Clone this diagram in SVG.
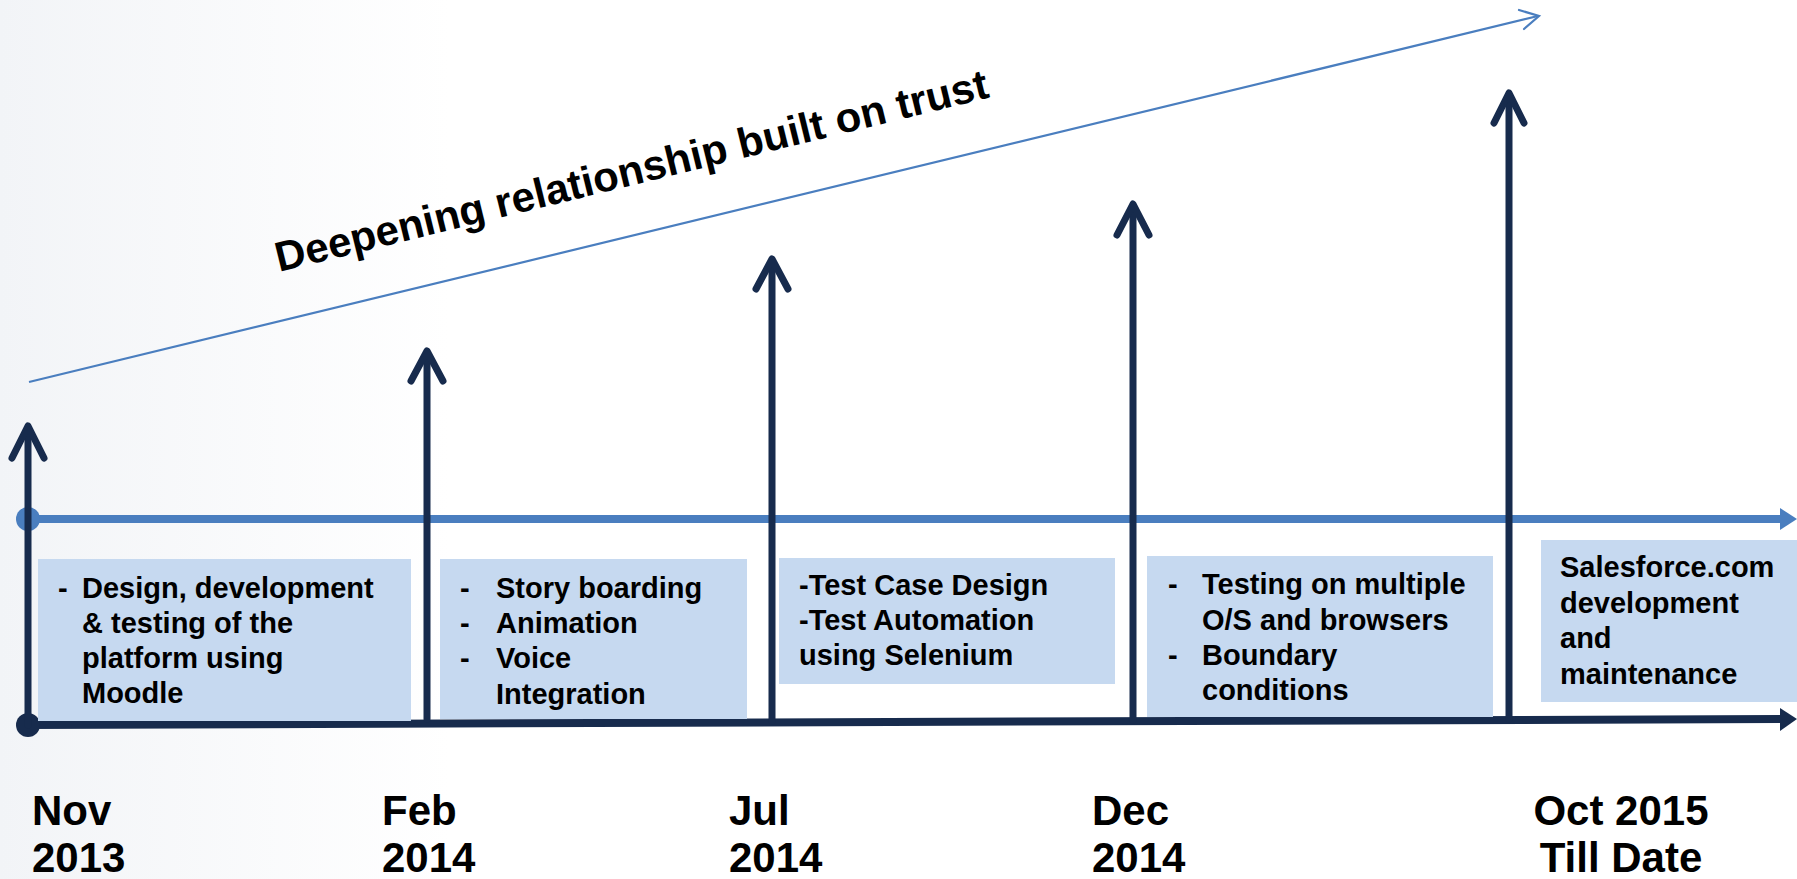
<svg xmlns="http://www.w3.org/2000/svg" width="1797" height="879" viewBox="0 0 1797 879">
<defs>
<style>
.t{font-family:"Liberation Sans",Arial,sans-serif;font-weight:bold;fill:#000;}
.box{font-size:29px;}
.date{font-size:42px;}
.bx{fill:#c6d9f0;}
.va{stroke:#172b4d;stroke-width:7;fill:none;stroke-linecap:round;stroke-linejoin:round;}
</style>
<linearGradient id="bg" x1="0" y1="0" x2="1" y2="0">
<stop offset="0" stop-color="#f2f4f7"/>
<stop offset="0.25" stop-color="#ffffff"/>
</linearGradient>
</defs>
<rect width="1797" height="879" fill="url(#bg)"/>

<g id="trend">
<line x1="29" y1="382" x2="1538" y2="16" stroke="#4a7ebf" stroke-width="2.2"/>
<polyline points="1519,10 1539,16 1524,29" fill="none" stroke="#4a7ebf" stroke-width="2.2" stroke-linecap="round"/>
<text class="t" font-size="42" transform="translate(279,272) rotate(-13.8)">Deepening relationship built on trust</text>
</g>

<g id="connectors">
<line x1="28" y1="519" x2="1782" y2="519" stroke="#4a7ebf" stroke-width="8"/>
<polygon points="1780,508 1797,519 1780,530" fill="#4a7ebf"/>
<circle cx="28" cy="519" r="12" fill="#4a7ebf"/>
<line x1="28" y1="725" x2="1782" y2="719" stroke="#172b4d" stroke-width="8"/>
<polygon points="1780,708 1797,719 1780,731" fill="#172b4d"/>
<circle cx="28" cy="725" r="12" fill="#172b4d"/>
<g class="va">
<line x1="28" y1="725" x2="28" y2="428"/><polyline points="12,458 28,426 44,458"/>
<line x1="427" y1="719" x2="427" y2="353"/><polyline points="411,381 427,351 443,381"/>
<line x1="772" y1="721" x2="772" y2="261"/><polyline points="756,289 772,259 788,289"/>
<line x1="1133" y1="720" x2="1133" y2="206"/><polyline points="1117,235 1133,204 1149,235"/>
<line x1="1509" y1="719" x2="1509" y2="95"/><polyline points="1494,123 1509,93 1524,123"/>
</g>
</g>

<g id="box1">
<rect class="bx" x="38" y="559" width="373" height="162"/>
<text class="t box"><tspan x="58" y="598">-</tspan><tspan x="82" y="598">Design, development</tspan><tspan x="82" y="633">&amp; testing of the</tspan><tspan x="82" y="668">platform using</tspan><tspan x="82" y="703">Moodle</tspan></text>
</g>
<g id="box2">
<rect class="bx" x="440" y="559" width="307" height="160"/>
<text class="t box"><tspan x="460" y="598">-</tspan><tspan x="496" y="598">Story boarding</tspan><tspan x="460" y="633">-</tspan><tspan x="496" y="633">Animation</tspan><tspan x="460" y="668">-</tspan><tspan x="496" y="668">Voice</tspan><tspan x="496" y="704">Integration</tspan></text>
</g>
<g id="box3">
<rect class="bx" x="779" y="558" width="336" height="126"/>
<text class="t box"><tspan x="799" y="595">-Test Case Design</tspan><tspan x="799" y="630">-Test Automation</tspan><tspan x="799" y="665">using Selenium</tspan></text>
</g>
<g id="box4">
<rect class="bx" x="1147" y="556" width="346" height="161"/>
<text class="t box"><tspan x="1168" y="594">-</tspan><tspan x="1202" y="594">Testing  on multiple</tspan><tspan x="1202" y="630">O/S and browsers</tspan><tspan x="1168" y="665">-</tspan><tspan x="1202" y="665">Boundary</tspan><tspan x="1202" y="700">conditions</tspan></text>
</g>
<g id="box5">
<rect class="bx" x="1541" y="540" width="256" height="162"/>
<text class="t box"><tspan x="1560" y="577">Salesforce.com</tspan><tspan x="1560" y="613">development</tspan><tspan x="1560" y="648">and</tspan><tspan x="1560" y="684">maintenance</tspan></text>
</g>

<g id="dates">
<text class="t date"><tspan x="32" y="825">Nov</tspan><tspan x="32" y="872">2013</tspan></text>
<text class="t date"><tspan x="382" y="825">Feb</tspan><tspan x="382" y="872">2014</tspan></text>
<text class="t date"><tspan x="729" y="825">Jul</tspan><tspan x="729" y="872">2014</tspan></text>
<text class="t date"><tspan x="1092" y="825">Dec</tspan><tspan x="1092" y="872">2014</tspan></text>
<text class="t date" text-anchor="middle"><tspan x="1621" y="825">Oct 2015</tspan><tspan x="1621" y="872">Till Date</tspan></text>
</g>
</svg>
